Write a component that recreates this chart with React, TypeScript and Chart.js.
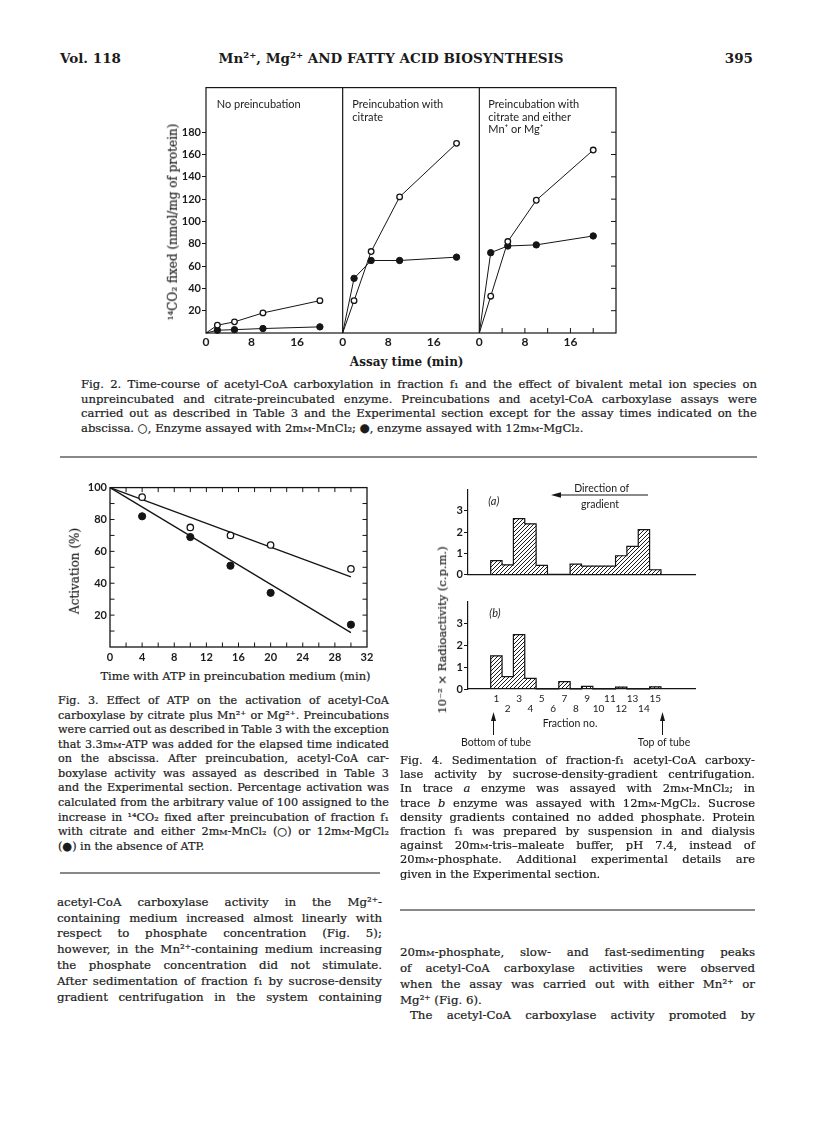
import React, { useEffect, useRef } from 'react';
import { Chart, registerables } from 'chart.js';

Chart.register(...registerables);

const SERIF = '"DejaVu Serif", serif';
const SANS = 'Lato, "Open Sans", sans-serif';
const INK = '#151515';
const TEXT = '#1b1b1b';

// ---------------- Fig. 2 data ----------------
const fig2Times = [0, 2, 5, 10, 20];
const fig2NoPreincMn = [0, 7, 10, 18, 29];
const fig2NoPreincMg = [0, 2.5, 3, 4, 5.5];
const fig2CitrateMn = [0, 29, 73, 122, 170];
const fig2CitrateMg = [0, 49, 65, 65, 68];
const fig2MetalMn = [0, 33, 82, 119, 164];
const fig2MetalMg = [0, 72, 78, 79, 87];
const fig2PanelLength = 24;
const fig2XTickLabels = ['0', '8', '16'];
const fig2YTicks = [20, 40, 60, 80, 100, 120, 140, 160, 180];
const fig2PanelTitles = [
  ['No preincubation'],
  ['Preincubation with', 'citrate'],
  ['Preincubation with', 'citrate and either', 'Mn⁺ or Mg⁺'],
];

// ---------------- Fig. 3 data ----------------
const fig3Times = [4, 10, 15, 20, 30];
const fig3Mn = [94, 75, 70, 64, 49];
const fig3Mg = [82, 69, 51, 34, 14];
const fig3FitTimes = [0, 30];
const fig3MnFit = [100, 44];
const fig3MgFit = [100, 9];
const fig3XTicks = [0, 4, 8, 12, 16, 20, 24, 28, 32];
const fig3YTicks = [20, 40, 60, 80, 100];

// ---------------- Fig. 4 data ----------------
const fig4Fractions = [1, 2, 3, 4, 5, 6, 7, 8, 9, 10, 11, 12, 13, 14, 15];
const fig4TraceA = [0.65, 0.45, 2.63, 2.38, 0.43, 0, 0, 0.48, 0.39, 0.39, 0.39, 0.88, 1.32, 2.11, 0.22];
const fig4TraceB = [1.52, 0.57, 2.49, 0.49, 0, 0, 0.34, 0, 0.12, 0, 0, 0.09, 0, 0, 0.1];
const fig4YTicks = [0, 1, 2, 3];
const fig4FractionLabels = ['1', '2', '3', '4', '5', '6', '7', '8', '9', '10', '11', '12', '13', '14', '15'];

// ---------------- Text ----------------
const fig2Caption = [
  'Fig. 2. Time-course of acetyl-CoA carboxylation in fraction f₁ and the effect of bivalent metal ion species on',
  'unpreincubated and citrate-preincubated enzyme. Preincubations and acetyl-CoA carboxylase assays were',
  'carried out as described in Table 3 and the Experimental section except for the assay times indicated on the',
  'abscissa. ○, Enzyme assayed with 2mM-MnCl₂; ●, enzyme assayed with 12mM-MgCl₂.',
];
const fig3Caption = [
  'Fig. 3. Effect of ATP on the activation of acetyl-CoA',
  'carboxylase by citrate plus Mn²⁺ or Mg²⁺. Preincubations',
  'were carried out as described in Table 3 with the exception',
  'that 3.3mM-ATP was added for the elapsed time indicated',
  'on the abscissa. After preincubation, acetyl-CoA car-',
  'boxylase activity was assayed as described in Table 3',
  'and the Experimental section. Percentage activation was',
  'calculated from the arbitrary value of 100 assigned to the',
  'increase in ¹⁴CO₂ fixed after preincubation of fraction f₁',
  'with citrate and either 2mM-MnCl₂ (○) or 12mM-MgCl₂',
  '(●) in the absence of ATP.',
];
const fig4Caption = [
  'Fig. 4. Sedimentation of fraction-f₁ acetyl-CoA carboxy-',
  'lase activity by sucrose-density-gradient centrifugation.',
  'In trace _a_ enzyme was assayed with 2mM-MnCl₂; in',
  'trace _b_ enzyme was assayed with 12mM-MgCl₂. Sucrose',
  'density gradients contained no added phosphate. Protein',
  'fraction f₁ was prepared by suspension in and dialysis',
  'against 20mM-tris–maleate buffer, pH 7.4, instead of',
  '20mM-phosphate. Additional experimental details are',
  'given in the Experimental section.',
];
const leftBody = [
  'acetyl-CoA carboxylase activity in the Mg²⁺-',
  'containing medium increased almost linearly with',
  'respect to phosphate concentration (Fig. 5);',
  'however, in the Mn²⁺-containing medium increasing',
  'the phosphate concentration did not stimulate.',
  'After sedimentation of fraction f₁ by sucrose-density',
  'gradient centrifugation in the system containing',
];
const rightBody = [
  '20mM-phosphate, slow- and fast-sedimenting peaks',
  'of acetyl-CoA carboxylase activities were observed',
  'when the assay was carried out with either Mn²⁺ or',
  'Mg²⁺ (Fig. 6).',
  'The acetyl-CoA carboxylase activity promoted by',
];

// ---------------- helpers ----------------
function rich(s: string): React.ReactNode {
  const parts = s.split(/(mM|_[^_]+_)/);
  return parts.map((p, i) => {
    if (p === 'mM')
      return (
        <React.Fragment key={i}>
          m<span style={{ fontVariant: 'small-caps' }}>m</span>
        </React.Fragment>
      );
    if (p.length > 2 && p[0] === '_' && p[p.length - 1] === '_') return <i key={i}>{p.slice(1, -1)}</i>;
    return <React.Fragment key={i}>{p}</React.Fragment>;
  });
}

function T(props: {
  x: number; y: number; text: string; size?: number; family?: string; weight?: string;
  italic?: boolean; anchor?: 'start' | 'middle' | 'end'; rotate?: number; stroke?: number;
}) {
  const { x, y, text, size = 11, family = SERIF, weight = 'normal', italic = false, anchor = 'start', rotate = 0, stroke = 0 } = props;
  const tx = anchor === 'middle' ? '-50%' : anchor === 'end' ? '-100%' : '0';
  return (
    <div
      style={{
        position: 'absolute', left: x, top: y,
        transform: `translate(${tx}, -50%)${rotate ? ` rotate(${rotate}deg)` : ''}`,
        whiteSpace: 'pre', fontFamily: family, fontSize: size, fontWeight: weight as any,
        fontStyle: italic ? 'italic' : 'normal', lineHeight: 1.2, color: TEXT,
        WebkitTextStroke: stroke ? `${stroke}px ${TEXT}` : undefined,
      }}
    >
      {rich(text)}
    </div>
  );
}

function JLine(props: { x: number; y: number; w: number; text: string; size: number; justify: boolean }) {
  const { x, y, w, text, size, justify } = props;
  const style: React.CSSProperties = {
    position: 'absolute', left: x, top: y, width: w, transform: 'translateY(-50%)',
    fontFamily: SERIF, fontSize: size, lineHeight: 1.2, color: TEXT, whiteSpace: 'pre',
    WebkitTextStroke: `0.2px ${TEXT}`,
  };
  if (!justify) return <div style={style}>{rich(text)}</div>;
  return (
    <div style={{ ...style, display: 'flex', justifyContent: 'space-between' }}>
      {text.split(' ').map((wd, i) => (
        <span key={i}>{rich(wd)}</span>
      ))}
    </div>
  );
}

function ChartCanvas(props: { left: number; top: number; width: number; height: number; build: () => any }) {
  const ref = useRef<HTMLCanvasElement | null>(null);
  const { left, top, width, height, build } = props;
  useEffect(() => {
    const canvas = ref.current;
    if (!canvas) return;
    const chart = new Chart(canvas, build());
    return () => chart.destroy();
  }, []);
  return (
    <canvas
      ref={ref}
      width={width}
      height={height}
      style={{ position: 'absolute', left, top, width, height }}
    />
  );
}

const baseOptions = {
  responsive: false,
  maintainAspectRatio: false,
  animation: false as const,
  events: [] as any[],
};
const noPlugins = { legend: { display: false }, tooltip: { enabled: false } };

// ---------------- Fig. 2 ----------------
function buildFig2() {
  const panels = [
    [fig2NoPreincMn, fig2NoPreincMg],
    [fig2CitrateMn, fig2CitrateMg],
    [fig2MetalMn, fig2MetalMg],
  ];
  const datasets: any[] = [];
  panels.forEach((pair, p) =>
    pair.forEach((vals, s) => {
      datasets.push({
        data: fig2Times.map((t, i) => ({ x: t + p * fig2PanelLength, y: vals[i] })),
        borderColor: INK,
        borderWidth: 1,
        tension: 0,
        fill: false,
        clip: false,
        pointRadius: fig2Times.map((t) => (t === 0 ? 0 : s === 0 ? 2.8 : 3.2)),
        pointBackgroundColor: s === 0 ? '#fff' : INK,
        pointBorderColor: INK,
        pointBorderWidth: s === 0 ? 1.3 : 1,
        order: s === 0 ? 0 : 1,
      });
    })
  );
  const frame = {
    id: 'fig2Frame',
    afterDraw(chart: any) {
      const { ctx, chartArea: a, scales } = chart;
      const x = scales.x;
      const y = scales.y;
      ctx.save();
      ctx.strokeStyle = INK;
      ctx.lineWidth = 1.2;
      ctx.strokeRect(a.left, a.top, a.right - a.left, a.bottom - a.top);
      ctx.beginPath();
      [1, 2].forEach((p) => {
        const px = x.getPixelForValue(p * fig2PanelLength);
        ctx.moveTo(px, a.top);
        ctx.lineTo(px, a.bottom);
      });
      ctx.stroke();
      ctx.lineWidth = 1;
      ctx.beginPath();
      for (let v = 2 * fig2PanelLength + 4; v < 3 * fig2PanelLength; v += 4) {
        const px = x.getPixelForValue(v);
        ctx.moveTo(px, a.bottom);
        ctx.lineTo(px, a.bottom - 5);
      }
      fig2YTicks.forEach((v) => {
        const py = y.getPixelForValue(v);
        ctx.moveTo(a.right, py);
        ctx.lineTo(a.right - 5, py);
      });
      ctx.stroke();
      ctx.restore();
    },
  };
  return {
    type: 'line',
    data: { datasets },
    options: {
      ...baseOptions,
      layout: { padding: { top: 5, right: 14, bottom: 0, left: 0 } },
      plugins: noPlugins,
      scales: {
        x: {
          type: 'linear',
          min: 0,
          max: 3 * fig2PanelLength,
          afterBuildTicks: (s: any) => {
            const ticks: any[] = [];
            for (let p = 0; p < 3; p++) fig2XTickLabels.forEach((_, k) => ticks.push({ value: p * fig2PanelLength + k * 8 }));
            s.ticks = ticks;
          },
          ticks: {
            autoSkip: false,
            maxRotation: 0,
            padding: 1.5,
            color: TEXT,
            font: { family: SANS, size: 12, weight: 'bold' },
            callback: (v: number) => fig2XTickLabels[Math.round((v % fig2PanelLength) / 8)],
          },
          grid: { display: false, drawTicks: false },
          border: { display: false },
          afterFit: (s: any) => {
            s.height = 17;
          },
        },
        y: {
          type: 'linear',
          min: 0,
          max: 220,
          afterBuildTicks: (s: any) => {
            s.ticks = fig2YTicks.map((v) => ({ value: v }));
          },
          ticks: { padding: 1, color: TEXT, font: { family: SANS, size: 11, weight: 'bold' } },
          grid: { display: true, drawOnChartArea: false, drawTicks: true, tickLength: 4, color: INK, lineWidth: 1 },
          border: { display: false },
          afterFit: (s: any) => {
            s.width = 46;
          },
        },
      },
    },
    plugins: [frame],
  };
}

// ---------------- Fig. 3 ----------------
function buildFig3() {
  const frame = {
    id: 'fig3Frame',
    afterDraw(chart: any) {
      const { ctx, chartArea: a, scales } = chart;
      const x = scales.x;
      const y = scales.y;
      ctx.save();
      ctx.strokeStyle = INK;
      ctx.lineWidth = 1.3;
      ctx.strokeRect(a.left, a.top, a.right - a.left, a.bottom - a.top);
      ctx.lineWidth = 1;
      ctx.beginPath();
      for (let v = 2; v < 32; v += 2) {
        const px = x.getPixelForValue(v);
        ctx.moveTo(px, a.top);
        ctx.lineTo(px, a.top + 4.5);
        ctx.moveTo(px, a.bottom);
        ctx.lineTo(px, a.bottom - 4.5);
      }
      for (let v = 10; v < 100; v += 10) {
        const py = y.getPixelForValue(v);
        ctx.moveTo(a.left, py);
        ctx.lineTo(a.left + 4.5, py);
        ctx.moveTo(a.right, py);
        ctx.lineTo(a.right - 4.5, py);
      }
      ctx.stroke();
      ctx.restore();
    },
  };
  return {
    type: 'scatter',
    data: {
      datasets: [
        {
          data: fig3Times.map((t, i) => ({ x: t, y: fig3Mn[i] })),
          pointRadius: 3.2,
          pointBackgroundColor: '#fff',
          pointBorderColor: INK,
          pointBorderWidth: 1.3,
          showLine: false,
          clip: false,
        },
        {
          data: fig3Times.map((t, i) => ({ x: t, y: fig3Mg[i] })),
          pointRadius: 3.6,
          pointBackgroundColor: INK,
          pointBorderColor: INK,
          pointBorderWidth: 1,
          showLine: false,
          clip: false,
        },
        {
          data: fig3FitTimes.map((t, i) => ({ x: t, y: fig3MnFit[i] })),
          showLine: true,
          pointRadius: 0,
          borderColor: INK,
          borderWidth: 1.3,
          clip: false,
        },
        {
          data: fig3FitTimes.map((t, i) => ({ x: t, y: fig3MgFit[i] })),
          showLine: true,
          pointRadius: 0,
          borderColor: INK,
          borderWidth: 1.3,
          clip: false,
        },
      ],
    },
    options: {
      ...baseOptions,
      layout: { padding: { top: 7, right: 13, bottom: 0, left: 0 } },
      plugins: noPlugins,
      scales: {
        x: {
          type: 'linear',
          min: 0,
          max: 32,
          afterBuildTicks: (s: any) => {
            s.ticks = fig3XTicks.map((v) => ({ value: v }));
          },
          ticks: {
            autoSkip: false,
            maxRotation: 0,
            padding: 3.4,
            color: TEXT,
            font: { family: SANS, size: 11, weight: 'bold' },
          },
          grid: { display: false, drawTicks: false },
          border: { display: false },
          afterFit: (s: any) => {
            s.height = 21;
          },
        },
        y: {
          type: 'linear',
          min: 0,
          max: 100,
          afterBuildTicks: (s: any) => {
            s.ticks = fig3YTicks.map((v) => ({ value: v }));
          },
          ticks: { padding: 3, color: TEXT, font: { family: SANS, size: 11, weight: 'bold' } },
          grid: { display: false, drawTicks: false },
          border: { display: false },
          afterFit: (s: any) => {
            s.width = 50;
          },
        },
      },
    },
    plugins: [frame],
  };
}

// ---------------- Fig. 4 ----------------
function makeHatch(): CanvasPattern | string {
  const c = document.createElement('canvas');
  c.width = 4;
  c.height = 4;
  const g = c.getContext('2d');
  if (!g) return '#777';
  g.strokeStyle = '#1c1c1c';
  g.lineWidth = 1;
  g.beginPath();
  g.moveTo(0, 4);
  g.lineTo(4, 0);
  g.moveTo(-1, 1);
  g.lineTo(1, -1);
  g.moveTo(3, 5);
  g.lineTo(5, 3);
  g.stroke();
  return g.createPattern(c, 'repeat') || '#777';
}

function histogramOutline(vals: number[]) {
  const pts = [{ x: fig4Fractions[0] - 0.5, y: 0 }];
  fig4Fractions.forEach((f, i) => pts.push({ x: f - 0.5, y: vals[i] }));
  pts.push({ x: fig4Fractions[fig4Fractions.length - 1] + 0.5, y: 0 });
  return pts;
}

function buildFig4(vals: number[], showLabels: boolean) {
  return () => ({
    type: 'bar',
    data: {
      datasets: [
        {
          type: 'line',
          data: histogramOutline(vals),
          stepped: 'before',
          borderColor: INK,
          borderWidth: 1.2,
          pointRadius: 0,
          fill: false,
          clip: false,
          order: 0,
        },
        {
          type: 'bar',
          data: fig4Fractions.map((f, i) => ({ x: f, y: vals[i] })),
          backgroundColor: makeHatch(),
          borderWidth: 0,
          barPercentage: 1,
          categoryPercentage: 1,
          order: 1,
        },
      ],
    },
    options: {
      ...baseOptions,
      layout: { padding: { top: 6, right: 15, bottom: showLabels ? 0 : 5, left: 0 } },
      plugins: noPlugins,
      scales: {
        x: {
          type: 'linear',
          min: -1.5,
          max: 18.5,
          offset: false,
          afterBuildTicks: (s: any) => {
            s.ticks = fig4Fractions.map((v) => ({ value: v }));
          },
          ticks: {
            display: showLabels,
            autoSkip: false,
            maxRotation: 0,
            padding: 4.4,
            color: TEXT,
            font: { family: SANS, size: 10, lineHeight: 1 },
            callback: (v: number) => {
              const idx = fig4Fractions.indexOf(v);
              const lbl = fig4FractionLabels[idx] ?? '';
              return idx % 2 === 0 ? [lbl] : ['', lbl];
            },
          },
          grid: { display: false, drawTicks: false, offset: false },
          border: { display: true, color: INK, width: 1.2 },
          afterFit: (s: any) => {
            s.height = showLabels ? 30 : 0;
          },
        },
        y: {
          type: 'linear',
          min: 0,
          max: 4,
          afterBuildTicks: (s: any) => {
            s.ticks = fig4YTicks.map((v) => ({ value: v }));
          },
          ticks: { padding: 1, color: TEXT, font: { family: SANS, size: 11, weight: 'bold' } },
          grid: { display: true, drawOnChartArea: false, drawTicks: true, tickLength: 4, color: INK, lineWidth: 1 },
          border: { display: true, color: INK, width: 1.2 },
          afterFit: (s: any) => {
            s.width = 48;
          },
        },
      },
    },
  });
}

export default function App() {
  const fig2TitleX = [216.7, 352.3, 488.3];
  return (
    <div
      style={{
        position: 'absolute', left: 0, top: 0, width: 816, height: 1136,
        background: '#fff', overflow: 'hidden',
      }}
    >
      {/* Running head */}
      <T x={60} y={58} text="Vol. 118" size={13.5} weight="bold" />
      <T x={391} y={58} text="Mn²⁺, Mg²⁺ AND FATTY ACID BIOSYNTHESIS" size={13.5} weight="bold" anchor="middle" />
      <T x={753} y={58} text="395" size={13.5} weight="bold" anchor="end" />

      {/* Fig. 2 */}
      <ChartCanvas left={160} top={80} width={470} height={270} build={buildFig2} />
      {fig2PanelTitles.map((lines, p) =>
        lines.map((ln, k) => (
          <T key={`p${p}-${k}`} x={fig2TitleX[p]} y={104.3 + k * 12.3} text={ln} size={11} family={SANS} />
        ))
      )}
      <T x={173} y={222} text="¹⁴CO₂ fixed (nmol/mg of protein)" size={12} anchor="middle" rotate={-90} stroke={0.2} />
      <T x={406.7} y={362.3} text="Assay time (min)" size={12} weight="bold" anchor="middle" />
      {fig2Caption.map((ln, i) => (
        <JLine key={`c2${i}`} x={81} y={385 + i * 14.5} w={676} text={ln} size={11.6} justify={i < fig2Caption.length - 1} />
      ))}

      {/* Fig. 3 */}
      <ChartCanvas left={60} top={478} width={320} height={190} build={buildFig3} />
      <T x={75} y={571} text="Activation (%)" size={12} anchor="middle" rotate={-90} stroke={0.2} />
      <T x={235.5} y={677} text="Time with ATP in preincubation medium (min)" size={11.5} anchor="middle" stroke={0.2} />
      {fig3Caption.map((ln, i) => (
        <JLine key={`c3${i}`} x={58} y={701 + i * 14.57} w={331} text={ln} size={11.2} justify={i < fig3Caption.length - 1} />
      ))}

      {/* Fig. 4 */}
      <ChartCanvas left={420} top={482} width={290} height={100} build={buildFig4(fig4TraceA, false)} />
      <ChartCanvas left={420} top={594} width={290} height={125} build={buildFig4(fig4TraceB, true)} />
      <T x={488.3} y={501} text="(a)" size={11} family={SANS} italic />
      <T x={489.3} y={613.3} text="(b)" size={11} family={SANS} italic />
      <T x={601.7} y={488.3} text="Direction of" size={10.5} family={SANS} anchor="middle" />
      <T x={600} y={504.3} text="gradient" size={10.5} family={SANS} anchor="middle" />
      <T x={443} y={630} text="10⁻² × Radioactivity (c.p.m.)" size={11.5} anchor="middle" rotate={-90} stroke={0.2} />
      <T x={570} y={722.7} text="Fraction no." size={10.5} family={SANS} anchor="middle" />
      <T x={496} y={741.7} text="Bottom of tube" size={10.5} family={SANS} anchor="middle" />
      <T x={664} y={741.7} text="Top of tube" size={10.5} family={SANS} anchor="middle" />
      {fig4Caption.map((ln, i) => (
        <JLine key={`c4${i}`} x={400} y={761 + i * 14.2} w={355} text={ln} size={11.5} justify={i < fig4Caption.length - 1} />
      ))}

      {/* Body text */}
      {leftBody.map((ln, i) => (
        <JLine key={`lb${i}`} x={57} y={901.7 + i * 15.84} w={325} text={ln} size={11.8} justify />
      ))}
      {rightBody.map((ln, i) => (
        <JLine
          key={`rb${i}`}
          x={i === 4 ? 410 : 400}
          y={952 + i * 15.84}
          w={i === 4 ? 345 : 355}
          text={ln}
          size={11.8}
          justify={i !== 3}
        />
      ))}

      {/* Rules and arrows */}
      <svg width={816} height={1136} style={{ position: 'absolute', left: 0, top: 0, pointerEvents: 'none' }}>
        <g stroke={INK} strokeWidth={1.2} fill="none">
          <line x1={60} y1={457} x2={757} y2={457} />
          <line x1={60} y1={873} x2={380} y2={873} />
          <line x1={400} y1={910} x2={755} y2={910} />
          <line x1={648} y1={495} x2={556} y2={495} strokeWidth={1} />
          <line x1={493.5} y1={735} x2={493.5} y2={719} strokeWidth={1} />
          <line x1={662.5} y1={735} x2={662.5} y2={719} strokeWidth={1} />
        </g>
        <g fill={INK} stroke="none">
          <polygon points="551,495 561,492.3 561,497.7" />
          <polygon points="493.5,712 491,721 496,721" />
          <polygon points="662.5,712 660,721 665,721" />
        </g>
      </svg>
    </div>
  );
}
